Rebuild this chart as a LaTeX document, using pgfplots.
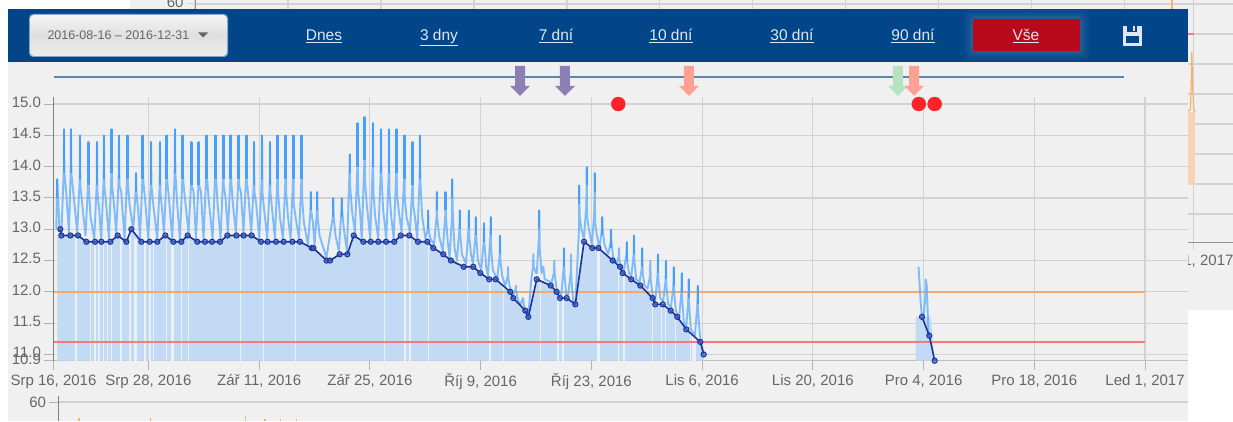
\documentclass[border=0pt]{standalone}
\usepackage{fontspec}
\setmainfont{Liberation Sans}
\usepackage{pgfplots}
\pgfplotsset{compat=1.18}
\definecolor{panel}{RGB}{240,240,240}
\definecolor{headblue}{RGB}{2,70,137}
\definecolor{gridc}{RGB}{210,210,210}
\definecolor{labelc}{RGB}{102,102,102}
\definecolor{spike}{RGB}{70,160,250}
\definecolor{areab}{RGB}{194,218,243}
\definecolor{stripe}{RGB}{236,240,244}
\definecolor{dayline}{RGB}{28,52,150}
\definecolor{dayfill}{RGB}{60,100,200}
\definecolor{limorange}{RGB}{240,170,110}
\definecolor{limred}{RGB}{250,120,125}
\definecolor{topline}{RGB}{90,134,181}
\definecolor{arrowp}{RGB}{138,128,181}
\definecolor{arrows}{RGB}{255,160,148}
\definecolor{arrowg}{RGB}{182,226,192}
\definecolor{dotred}{RGB}{255,34,40}
\definecolor{btnred}{RGB}{185,10,28}
\definecolor{linkc}{RGB}{222,232,245}

\pgfdeclareplotmark{downarrow}{%
  \pgfpathmoveto{\pgfqpoint{-5pt}{15pt}}
  \pgfpathlineto{\pgfqpoint{5pt}{15pt}}
  \pgfpathlineto{\pgfqpoint{5pt}{-5pt}}
  \pgfpathlineto{\pgfqpoint{10pt}{-5pt}}
  \pgfpathlineto{\pgfqpoint{0pt}{-15pt}}
  \pgfpathlineto{\pgfqpoint{-10pt}{-5pt}}
  \pgfpathlineto{\pgfqpoint{-5pt}{-5pt}}
  \pgfpathclose
  \pgfusepathqfill}

\newcommand{\fs}{\fontsize{15}{17}\selectfont}
\newcommand{\lnk}[1]{\fontsize{15.5}{17}\selectfont\color{linkc}\underline{#1}}

\begin{document}
\begin{tikzpicture}[x=1pt,y=1pt]
\path[use as bounding box] (0,0) rectangle (1233,421);
\fill[panel] (130,111) rectangle (1233,421);

% chart behind, only its edges show
\begin{axis}[
  at={(195pt,179pt)}, anchor=south west, scale only axis,
  width=1038pt, height=242pt,
  xmin=0, xmax=156.3, ymin=-19.33, ymax=61.33,
  axis x line*=bottom, axis y line*=left,
  axis line style={-, draw=gridc!70!black, line width=1pt},
  grid=major, grid style={gridc, line width=1.2pt},
  tick align=outside, major tick length=8pt, tick style={gridc, line width=1pt},
  xtick={0,14,28,42,56,70,84,98,112,126,140,150.4},
  xticklabels={,,,,,,,,,,,{Led 1, 2017}},
  ytick={60,50,40,30,20,10,0,-10},
  yticklabels={60},
  tick label style={font=\fs, text=labelc},
  typeset ticklabels with strut,
]
\addplot[draw=none, fill=orange!25!panel] coordinates {(149.4,-0.2)(149.4,24)(150.6,24)(150.6,-0.2)} -- cycle;
\addplot[limred, line width=1.5pt] coordinates {(0,50)(150.4,50)};
\addplot[orange!55!panel, line width=1.2pt] coordinates {(149.4,24)(149.9,25)(150,33)(150.1,44)(150.2,33)(150.4,25)(150.6,24)};
\addplot[orange!55!panel, line width=1.2pt] coordinates {(147.1,57)(147.1,62)};
\end{axis}

\fill[white] (1188,0) rectangle (1233,111);
\fill[panel] (8,0) rectangle (1188,412);
\fill[headblue] (8,358.5) rectangle (1188,412);

% header bar
\fill[white,opacity=.5,rounded corners=4pt] (29,364) rectangle (228,407);
\shade[top color=white!92!gray, bottom color=white!85!gray, middle color=white!75!gray, rounded corners=4pt] (30,365) rectangle (227,406);
\node[font=\fontsize{12.5}{14}\selectfont, text=labelc, anchor=base west] at (44,381.5) {2016-08-16 – 2016-12-31};
\fill[labelc] (198,388.5) -- (208,388.5) -- (203,383.5) -- cycle;
\foreach \cx/\txt in {324/Dnes,439/3 dny,556/7 dní,671/10 dní,792/30 dní,913/90 dní,1026/Vše}{
  \ifnum\cx=1026
    \foreach \g/\o in {9/.03,6/.04,3/.06}
      \fill[white,opacity=\o,rounded corners=5pt] (973-\g,370-\g) rectangle (1080+\g,402+\g);
    \fill[btnred] (973,370) rectangle (1080,402);
  \fi
  \node[anchor=base] at (\cx,380.5) {\lnk{\txt}};
}
\fill[linkc] (1123,375) rectangle (1142,395);
\fill[headblue] (1126,378) rectangle (1139,385);
\fill[headblue] (1127,389) rectangle (1137,395);
\fill[linkc] (1133,390) rectangle (1135,395);

% main chart
\begin{axis}[
  at={(53.5pt,60.3pt)}, anchor=south west, scale only axis,
  width=1134.5pt, height=263.7pt,
  xmin=0, xmax=143.43, ymin=10.9, ymax=15.112,
  axis x line*=bottom, axis y line*=left,
  x axis line style={-, draw=black!25, line width=1pt},
  y axis line style={-, draw=black!50, line width=1pt},
  grid=major, grid style={gridc, line width=1.2pt},
  tick align=outside, major tick length=9pt, tick style={gridc!85!black, line width=1pt},
  xtick={0,12,26,40,54,68,82,96,110,124,138},
  xticklabels={{Srp 16, 2016},{Srp 28, 2016},{Zář 11, 2016},{Zář 25, 2016},{Říj 9, 2016},{Říj 23, 2016},{Lis 6, 2016},{Lis 20, 2016},{Pro 4, 2016},{Pro 18, 2016},{Led 1, 2017}},
  ytick={10.9,11,11.5,12,12.5,13,13.5,14,14.5,15},
  yticklabel style={/pgf/number format/fixed, /pgf/number format/fixed zerofill, /pgf/number format/precision=1, /pgf/number format/assume math mode=true},
  tick label style={font=\fs, text=labelc},
  typeset ticklabels with strut,
]
% daily area, Aug-Nov
\addplot[draw=none, fill=areab] coordinates {(0.5,10.9)(0.5,12.9)(0.99,12.9)(2.13,12.9)(3.10,12.9)(4.15,12.8)(5.25,12.8)(6.05,12.8)(7.19,12.8)(8.11,12.9)(9.21,12.8)(9.84,13.0)(11.10,12.8)(12.16,12.8)(13.13,12.8)(14.14,12.9)(15.15,12.8)(16.16,12.8)(16.96,12.9)(18.18,12.8)(19.15,12.8)(20.04,12.8)(21.05,12.8)(21.98,12.9)(23.12,12.9)(24.04,12.9)(25.05,12.9)(26.23,12.8)(27.07,12.8)(28.13,12.8)(29.10,12.8)(30.2,12.8)(31.16,12.8)(32.64,12.7)(32.85,12.7)(34.53,12.5)(34.96,12.5)(36.18,12.6)(37.15,12.6)(37.95,12.9)(39.17,12.8)(40.1,12.8)(41.06,12.8)(42.04,12.8)(43.08,12.8)(43.9,12.9)(44.98,12.9)(46.08,12.8)(47.26,12.8)(48.02,12.7)(49.28,12.6)(50.25,12.5)(51.86,12.4)(53.07,12.4)(53.96,12.3)(55.09,12.2)(55.9,12.2)(57.75,12.0)(58.13,11.9)(59.65,11.7)(60.03,11.6)(61.09,12.2)(62.86,12.1)(63.6,12.0)(64.03,11.9)(64.88,11.9)(65.97,11.8)(67.07,12.8)(68.12,12.7)(68.88,12.7)(70.7,12.5)(71.62,12.4)(71.96,12.3)(73.05,12.2)(74.18,12.1)(75.75,11.9)(76.08,11.8)(77.02,11.8)(78.03,11.7)(78.86,11.6)(80.0,11.4)(81.77,11.2)(82.2,11.0)(82.2,10.9)} -- cycle;
% daily area, Dec
\addplot[draw=none, fill=areab] coordinates {(109,10.9)(109,11.6)(110.9,11.6)(111.4,10.9)} -- cycle;
% gaps in the area
\addplot[ycomb, no markers, stripe, line width=1.4pt] coordinates {(2.84,12.9)(4.70,12.8)(5.25,12.8)(5.75,12.8)(6.30,12.8)(6.81,12.8)(7.35,12.85)(8.53,12.85)(9.67,12.95)(10.3,12.85)(10.5,12.85)(11.57,12.8)(12.2,12.8)(12.62,12.8)(14.31,12.9)(15.0,12.8)(15.15,12.8)(16.2,12.8)(17.07,12.9)(23.66,12.9)(26.58,12.8)(30.63,12.8)(41.85,12.8)(44.42,12.9)(45.07,12.9)(47.42,12.8)(52.35,12.4)(55.2,12.2)(56.9,12.1)(61.6,12.2)(63.8,12.0)(64.4,11.9)(68.85,12.7)(69.0,12.65)(71.4,12.4)(72.1,12.3)(75.7,11.9)(76.9,11.8)(77.4,11.8)(78.6,11.6)(80.55,11.4)(80.75,11.4)(80.95,11.3)(81.15,11.3)};
\addplot[limorange, line width=2pt] coordinates {(0,12)(138,12)};
\addplot[limred, line width=2pt] coordinates {(0,11.2)(138,11.2)};
% voltage samples, Aug-Nov
\addplot[spike!85!white, line width=1.9pt, opacity=.8, line join=round] coordinates {
(0.35,13.0)(0.44,13.6)(0.48,13.8)(0.55,13.6)(0.75,13.0)
(1.0,12.95)(1.29,13.9)(1.33,14.6)(1.38,13.9)(1.6,13.6)
(1.95,12.95)(2.17,13.9)(2.21,14.6)(2.26,13.9)(2.5,13.6)
(3.0,12.95)(3.31,13.8)(3.35,14.5)(3.4,13.7)(3.63,13.4)
(4.05,12.9)(4.36,13.7)(4.40,14.4)(4.45,13.7)(4.68,13.2)
(5.15,12.85)(5.46,13.7)(5.50,14.4)(5.55,13.6)(5.78,13.3)
(6.03,12.85)(6.34,13.8)(6.38,14.5)(6.43,13.7)(6.66,13.4)
(7.01,12.85)(7.32,13.9)(7.36,14.6)(7.41,13.7)(7.64,13.4)
(7.93,12.95)(8.24,13.8)(8.28,14.5)(8.33,13.7)(8.56,13.6)
(8.98,12.85)(9.29,13.8)(9.33,14.5)(9.38,13.8)(9.61,13.4)
(10.08,13.0)(10.39,13.6)(10.43,13.9)(10.48,13.6)(10.71,13.3)
(10.93,12.85)(11.24,13.8)(11.28,14.5)(11.33,13.8)(11.56,13.5)
(11.98,12.85)(12.29,13.7)(12.33,14.4)(12.38,13.7)(12.61,13.4)
(13.11,12.85)(13.42,13.7)(13.46,14.4)(13.51,13.6)(13.74,13.3)
(13.96,12.95)(14.27,13.8)(14.31,14.5)(14.36,13.8)(14.59,13.5)
(15.01,12.85)(15.32,13.9)(15.36,14.6)(15.41,13.9)(15.64,13.4)
(15.98,12.85)(16.29,13.8)(16.33,14.5)(16.38,13.8)(16.61,13.5)
(17.07,12.95)(17.38,13.7)(17.42,14.4)(17.47,13.7)(17.7,13.6)
(18.01,12.85)(18.32,13.7)(18.36,14.4)(18.41,13.7)(18.64,13.6)
(18.97,12.85)(19.28,13.8)(19.32,14.5)(19.37,13.9)(19.6,13.5)
(20.11,12.85)(20.42,13.8)(20.46,14.5)(20.51,13.9)(20.74,13.4)
(21.12,12.85)(21.43,13.8)(21.47,14.5)(21.52,13.7)(21.75,13.5)
(22.05,12.95)(22.36,13.8)(22.40,14.5)(22.45,13.8)(22.68,13.4)
(23.06,12.95)(23.37,13.8)(23.41,14.5)(23.46,13.7)(23.69,13.6)
(24.02,12.95)(24.33,13.8)(24.37,14.5)(24.42,13.8)(24.65,13.5)
(25.0,12.95)(25.31,13.7)(25.35,14.4)(25.4,13.6)(25.63,13.4)
(26.01,12.85)(26.32,13.8)(26.36,14.5)(26.41,13.6)(26.64,13.3)
(27.02,12.85)(27.33,13.7)(27.37,14.4)(27.42,13.6)(27.65,13.3)
(27.99,12.85)(28.3,13.8)(28.34,14.5)(28.39,13.6)(28.62,13.2)
(29.01,12.85)(29.32,13.8)(29.36,14.5)(29.41,13.6)(29.64,13.2)
(29.97,12.85)(30.28,13.8)(30.32,14.5)(30.37,13.4)(30.6,13.2)
(31.03,12.85)(31.34,13.8)(31.38,14.5)(31.43,13.5)(31.66,13.1)
(32.17,12.75)(32.48,13.3)(32.52,13.6)(32.57,13.3)(32.8,13.1)
(33.0,12.75)(33.31,13.3)(33.35,13.6)(33.4,13.2)(33.63,12.9)
(34.5,12.55)(35.33,13.2)(35.37,13.5)(35.42,13.2)(35.65,12.9)
(36.08,12.65)(36.39,13.3)(36.43,13.5)(36.48,13.3)(36.71,13.0)
(37.1,12.65)(37.41,13.9)(37.45,14.2)(37.5,13.7)(37.73,13.3)
(38.11,12.95)(38.42,14.0)(38.46,14.7)(38.51,13.6)(38.74,13.3)
(38.97,12.85)(39.28,14.0)(39.32,14.8)(39.37,13.8)(39.6,13.4)
(40.04,12.85)(40.35,14.0)(40.39,14.7)(40.44,13.6)(40.67,13.2)
(41.05,12.85)(41.36,13.9)(41.40,14.6)(41.45,13.9)(41.68,13.3)
(42.07,12.85)(42.38,13.9)(42.42,14.6)(42.47,13.6)(42.7,13.2)
(43.01,12.85)(43.32,13.9)(43.36,14.6)(43.41,13.6)(43.64,13.3)
(44.0,12.95)(44.31,13.8)(44.35,14.5)(44.4,13.5)(44.63,13.2)
(45.06,12.95)(45.37,13.7)(45.41,14.4)(45.46,13.4)(45.69,13.2)
(45.98,12.85)(46.29,13.8)(46.33,14.5)(46.38,13.8)(46.61,13.2)
(47.02,12.85)(47.33,13.0)(47.37,13.3)(47.42,13.0)(47.65,12.85)
(48.11,12.75)(48.42,13.2)(48.46,13.6)(48.51,13.2)(48.74,12.9)
(49.21,12.65)(49.52,13.2)(49.56,13.6)(49.61,13.2)(49.84,12.8)
(50.07,12.55)(50.38,13.2)(50.42,13.8)(50.47,13.3)(50.7,12.7)
(51.0,12.5)(51.31,13.0)(51.35,13.3)(51.4,12.95)(51.63,12.6)
(52.15,12.45)(52.46,13.0)(52.5,13.3)(52.55,12.9)(52.78,12.6)
(53.03,12.45)(53.34,12.9)(53.38,13.2)(53.43,12.9)(53.66,12.5)
(54.07,12.35)(54.38,12.8)(54.42,13.1)(54.47,12.8)(54.7,12.4)
(54.92,12.25)(55.23,12.9)(55.27,13.2)(55.32,12.7)(55.55,12.35)
(56.1,12.2)(56.41,12.6)(56.45,12.9)(56.5,12.5)(56.73,12.25)
(57.11,12.1)(57.42,12.25)(57.46,12.4)(57.51,12.2)(57.74,12.05)
(58.12,11.95)(58.43,12.05)(58.47,12.1)(58.52,12.0)(58.75,11.85)
(59.04,11.8)(59.35,11.9)(59.39,11.9)(59.44,11.8)(59.67,11.7)
(60.03,11.6)(60.4,12.2)(60.62,12.4)(60.66,12.6)(60.71,12.4)(61.0,12.3)
(61.1,12.3)(61.38,12.9)(61.42,13.3)(61.47,12.7)(61.7,12.3)(61.88,12.4)(61.92,12.4)(62.1,12.2)
(62.96,12.15)(63.27,12.3)(63.31,12.5)(63.36,12.3)(63.59,12.05)
(64.19,11.95)(64.5,12.4)(64.54,12.7)(64.59,12.3)(64.82,11.95)
(65.07,11.95)(65.38,12.3)(65.42,12.6)(65.47,12.2)(65.7,11.85)
(66.0,11.85)(66.43,13.0)(66.47,13.7)(66.52,13.2)(66.75,13.0)
(67.06,12.85)(67.37,13.4)(67.41,14.0)(67.46,13.2)(67.69,13.0)
(68.07,12.75)(68.38,13.3)(68.42,13.9)(68.47,13.1)(68.7,12.9)
(69.03,12.7)(69.34,13.0)(69.38,13.2)(69.43,13.0)(69.66,12.75)
(70.13,12.6)(70.44,12.8)(70.48,13.0)(70.53,12.8)(70.76,12.55)
(71.14,12.45)(71.45,12.55)(71.49,12.7)(71.54,12.5)(71.77,12.4)
(72.12,12.35)(72.43,12.6)(72.47,12.8)(72.52,12.5)(72.75,12.3)
(73.04,12.25)(73.35,12.6)(73.39,12.9)(73.44,12.5)(73.67,12.2)
(74.09,12.15)(74.4,12.4)(74.44,12.7)(74.49,12.3)(74.72,12.1)
(75.1,12.05)(75.41,12.25)(75.45,12.5)(75.5,12.2)(75.73,11.95)
(76.07,11.85)(76.38,12.3)(76.42,12.6)(76.47,12.2)(76.7,11.9)
(77.08,11.85)(77.39,12.2)(77.43,12.5)(77.48,12.1)(77.71,11.8)
(78.06,11.75)(78.37,12.1)(78.41,12.4)(78.46,12.0)(78.69,11.7)
(79.07,11.55)(79.38,12.0)(79.42,12.3)(79.47,11.9)(79.7,11.5)
(80.0,11.45)(80.26,11.9)(80.30,12.2)(80.35,11.8)(80.58,11.4)
(81.09,11.3)(81.40,11.8)(81.44,12.1)(81.49,11.7)(81.72,11.3)(82.2,11.0)};
% voltage samples, Dec
\addplot[spike!85!white, line width=1.9pt, opacity=.8, line join=round] coordinates {(109.36,12.4)(109.65,11.8)(109.8,11.6)(110.0,11.6)(110.2,11.9)(110.27,12.2)(110.4,12.1)(110.6,11.4)(110.72,11.3)};
% strong upper part of the tall spikes
\addplot[draw=none, mark=none, error bars/.cd, y dir=minus, y fixed=0.7, error mark=none, error bar style={draw=spike, solid, line width=2.6pt}] coordinates {(1.33,14.6)(2.21,14.6)(3.35,14.5)(4.40,14.4)(5.50,14.4)(6.38,14.5)(7.36,14.6)(8.28,14.5)(9.33,14.5)(11.28,14.5)(12.33,14.4)(13.46,14.4)(14.31,14.5)(15.36,14.6)(16.33,14.5)(17.42,14.4)(18.36,14.4)(19.32,14.5)(20.46,14.5)(21.47,14.5)(22.40,14.5)(23.41,14.5)(24.37,14.5)(25.35,14.4)(26.36,14.5)(27.37,14.4)(28.34,14.5)(29.36,14.5)(30.32,14.5)(31.38,14.5)(38.46,14.7)(39.32,14.8)(40.39,14.7)(41.40,14.6)(42.42,14.6)(43.36,14.6)(44.35,14.5)(45.41,14.4)(46.33,14.5)};
\addplot[draw=none, mark=none, error bars/.cd, y dir=minus, y fixed=0.3, error mark=none, error bar style={draw=spike, solid, line width=2.2pt}] coordinates {(0.48,13.8)(10.43,13.9)(32.52,13.6)(33.35,13.6)(35.37,13.5)(36.43,13.5)(37.45,14.2)(47.37,13.3)(48.46,13.6)(49.56,13.6)(50.42,13.8)(51.35,13.3)(52.5,13.3)(53.38,13.2)(54.42,13.1)(55.27,13.2)(56.45,12.9)(61.42,13.3)(64.54,12.7)(66.47,13.7)(67.41,14.0)(68.42,13.9)(69.38,13.2)(70.48,13.0)(72.47,12.8)(73.39,12.9)(74.44,12.7)(76.42,12.6)(77.43,12.5)(78.41,12.4)(79.42,12.3)(80.30,12.2)(81.44,12.1)};
\end{axis}

% same x and y mapping, taller, holds what stands above the plot box
\begin{axis}[
  at={(53.5pt,60.3pt)}, anchor=south west, scale only axis,
  width=1134.5pt, height=300.7pt,
  xmin=0, xmax=143.43, ymin=10.9, ymax=15.703,
  hide axis, clip=false,
]
\addplot[topline, line width=2pt] coordinates {(0.06,15.435)(135.3,15.435)};
\addplot[dayline, line width=1.6pt, mark=*, mark size=2.6pt,
  mark options={draw=dayline, fill=dayfill, fill opacity=.7, line width=1pt}] coordinates {(0.86,13.0)(0.99,12.9)(2.13,12.9)(3.10,12.9)(4.15,12.8)(5.25,12.8)(6.05,12.8)(7.19,12.8)(8.11,12.9)(9.21,12.8)(9.84,13.0)(11.10,12.8)(12.16,12.8)(13.13,12.8)(14.14,12.9)(15.15,12.8)(16.16,12.8)(16.96,12.9)(18.18,12.8)(19.15,12.8)(20.04,12.8)(21.05,12.8)(21.98,12.9)(23.12,12.9)(24.04,12.9)(25.05,12.9)(26.23,12.8)(27.07,12.8)(28.13,12.8)(29.10,12.8)(30.2,12.8)(31.16,12.8)(32.64,12.7)(32.85,12.7)(34.53,12.5)(34.96,12.5)(36.18,12.6)(37.15,12.6)(37.95,12.9)(39.17,12.8)(40.1,12.8)(41.06,12.8)(42.04,12.8)(43.08,12.8)(43.9,12.9)(44.98,12.9)(46.08,12.8)(47.26,12.8)(48.02,12.7)(49.28,12.6)(50.25,12.5)(51.86,12.4)(53.07,12.4)(53.96,12.3)(55.09,12.2)(55.9,12.2)(57.75,12.0)(58.13,11.9)(59.65,11.7)(60.03,11.6)(61.09,12.2)(62.86,12.1)(63.6,12.0)(64.03,11.9)(64.88,11.9)(65.97,11.8)(67.07,12.8)(68.12,12.7)(68.88,12.7)(70.7,12.5)(71.62,12.4)(71.96,12.3)(73.05,12.2)(74.18,12.1)(75.75,11.9)(76.08,11.8)(77.02,11.8)(78.03,11.7)(78.86,11.6)(80.0,11.4)(81.77,11.2)(82.2,11.0)};
\addplot[dayline, line width=1.6pt, mark=*, mark size=2.6pt,
  mark options={draw=dayline, fill=dayfill, fill opacity=.7, line width=1pt}] coordinates {(109.8,11.6)(110.72,11.3)(111.4,10.9)};
\addplot[only marks, mark=downarrow, mark options={fill=arrowp, draw=none}] coordinates {(58.98,15.37)(64.66,15.37)};
\addplot[only marks, mark=downarrow, mark options={fill=arrowg, draw=none}] coordinates {(106.76,15.37)};
\addplot[only marks, mark=downarrow, mark options={fill=arrows, draw=none}] coordinates {(80.34,15.37)(108.8,15.37)};
\addplot[only marks, mark=*, mark size=7pt, mark options={fill=dotred, draw=dotred}] coordinates {(71.4,15.0)(109.4,15.0)(111.4,15.0)};
\end{axis}

% chart below, only its top shows
\begin{axis}[
  at={(58.5pt,0pt)}, anchor=south west, scale only axis,
  width=1129.5pt, height=25pt,
  xmin=0, xmax=142.8, ymin=35, ymax=68,
  axis y line*=left, axis x line=none,
  y axis line style={-, draw=black!50, line width=1pt},
  grid=major, grid style={gridc, line width=1.2pt},
  tick align=outside, major tick length=9pt, tick style={gridc!85!black, line width=1pt},
  xtick={12,26,40,54,68,82,96,110,124,138},
  xticklabels={},
  ytick={60},
  yticklabel style={/pgf/number format/assume math mode=true},
  tick label style={font=\fs, text=labelc},
]
\addplot[ycomb, no markers, orange!55!panel, line width=1.2pt] coordinates {(2.6,39)(11.6,39)(23.6,41)(26.1,38)(28.1,38)(30.1,38)};
\end{axis}
\end{tikzpicture}
\end{document}
